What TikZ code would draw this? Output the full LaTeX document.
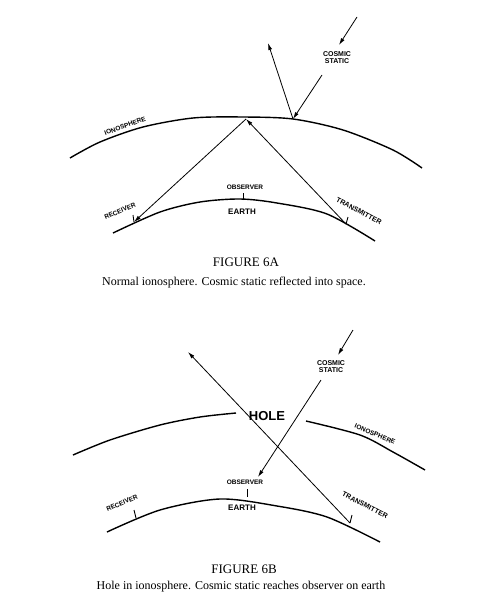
\documentclass[tikz,border=0pt]{standalone}
\usepackage{fontspec}
\setmainfont{Liberation Serif}
\setsansfont{Liberation Sans}
\usetikzlibrary{arrows.meta}

\begin{document}
\begin{tikzpicture}[x=1pt,y=-1pt,
  layer/.style={line width=1.4},
  ray/.style={-{Latex[length=7pt,width=4pt]}, line width=0.8},
  tickmark/.style={line width=0.9},
  hand/.style={font=\sffamily\bfseries\fontsize{#1}{#1}\selectfont, inner sep=0, align=center},
  hand/.default=6.5,
  captext/.style={font=\fontsize{#1}{#1}\selectfont, inner sep=0},
  captext/.default=12,
  ]
\useasboundingbox (0,0) rectangle (485,605);

% ---------- figure 6A ----------
\draw[layer] plot[smooth] coordinates {(70,158) (100,142) (143,127) (193,118) (243,117) (293,119) (343,130) (393,150) (422,168)};
\draw[layer] plot[smooth] coordinates {(113,233) (160,212) (200,202) (240,199) (277,203) (327,214) (375,241)};

\coordinate (apexA) at (246,119);
\coordinate (rxA) at (134,222);
\coordinate (txA) at (346,224);
\coordinate (obsA) at (243,200);
\coordinate (refA) at (293,119);
\coordinate (inA) at (357,17);
\coordinate (inAend) at (339,45);
\coordinate (inAstart) at (322,75);
\coordinate (outA) at (268,43);

\draw[ray] (txA) -- (apexA);
\draw[ray] (apexA) -- (rxA);
\draw[ray] (inA) -- (inAend);
\draw[ray] (inAstart) -- (refA);
\draw[ray] (refA) -- (outA);

\draw[tickmark] (rxA) -- +(-1,-7);
\draw[tickmark] (txA) -- +(2,-7);
\draw[tickmark] (obsA) -- +(0,-7);

\node[hand, rotate=20] (ionoA) at (125,126) {IONOSPHERE};
\node[hand=7] (csA) at (337,58) {COSMIC\\STATIC};
\node[hand] (obsAlbl) at (245,187) {OBSERVER};
\node[hand=8] (earthA) at (242,212) {EARTH};
\node[hand, rotate=23] (rxAlbl) at (120,211) {RECEIVER};
\node[hand=7, rotate=-28] (txAlbl) at (359,211) {TRANSMITTER};

\node[captext=13] (figA) at (246,262) {FIGURE 6A};
\node[captext] (capA) at (234,283) {Normal ionosphere. Cosmic static reflected into space.};

% ---------- figure 6B ----------
\draw[layer] plot[smooth] coordinates {(73,455) (110,440) (160,425) (200,417) (236,413)};
\draw[layer] plot[smooth] coordinates {(306,421) (360,435) (393,452) (425,470)};
\draw[layer] plot[smooth] coordinates {(107,532) (160,510) (220,499) (277,506) (327,517) (380,542)};

\coordinate (rxB) at (136,518);
\coordinate (txB) at (350,523);
\coordinate (obsB) at (247,497);
\coordinate (outB) at (188,352);
\coordinate (inB) at (353,330);
\coordinate (inBend) at (338,355);
\coordinate (inBstart) at (321,380);
\coordinate (obsBend) at (258,477);

\draw[ray] (txB) -- (outB);
\draw[ray] (inB) -- (inBend);
\draw[ray] (inBstart) -- (obsBend);

\draw[tickmark] (rxB) -- +(-2,-8);
\draw[tickmark] (txB) -- +(2,-8);
\draw[tickmark] (obsB) -- +(0,-8);

\node[hand=13] (hole) at (267,416) {HOLE};
\node[hand, rotate=-23] (ionoB) at (375,434) {IONOSPHERE};
\node[hand=7] (csB) at (331,367) {COSMIC\\STATIC};
\node[hand] (obsBlbl) at (245,482) {OBSERVER};
\node[hand=8] (earthB) at (242,508) {EARTH};
\node[hand, rotate=23] (rxBlbl) at (122,503) {RECEIVER};
\node[hand=7, rotate=-27] (txBlbl) at (365,505) {TRANSMITTER};

\node[captext=13] (figB) at (244,569) {FIGURE 6B};
\node[captext] (capB) at (241,587) {Hole in ionosphere. Cosmic static reaches observer on earth};
\end{tikzpicture}
\end{document}
